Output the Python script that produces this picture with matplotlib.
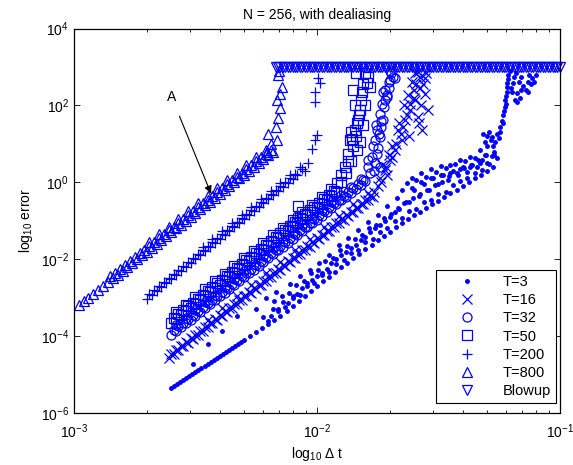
import numpy as np
import matplotlib
matplotlib.use('Agg')
import matplotlib.pyplot as plt
from matplotlib.ticker import LogLocator, NullLocator

plt.rcParams['font.family'] = ['Liberation Sans', 'DejaVu Sans']
plt.rcParams['mathtext.default'] = 'regular'

# all values are log10(dt) and log10(error)

# T=3 (dots): dense lower line, cloud rows above it, blow-up rise
t3_dt = [-2.60, -2.5875, -2.575, -2.5625, -2.55, -2.5375, -2.525, -2.5125, -2.50, -2.4875,
         -2.475, -2.4625, -2.45, -2.4375, -2.425, -2.4125, -2.40, -2.3875, -2.375, -2.3625,
         -2.35, -2.3375, -2.325, -2.3125, -2.30, -2.275, -2.25, -2.225, -2.20, -2.175,
         -2.15, -2.125, -2.10, -2.075, -2.05, -2.025, -2.00, -1.975, -1.95, -1.925,
         -1.90, -1.875, -1.85, -1.825, -1.80, -1.775, -1.75, -1.725, -1.70, -1.675,
         -1.65, -1.625, -1.60, -1.575, -1.55, -1.525, -1.50, -1.475, -1.45, -1.425,
         -1.40, -1.375, -1.35, -1.325, -1.30, -1.275,
         -2.51, -2.45, -2.39, -2.33, -2.25, -2.21, -2.17, -2.11, -2.07, -2.03, -1.99, -1.95,
         -1.91, -1.87, -1.83, -1.79, -1.75, -1.71, -1.67, -1.63, -1.59, -1.55, -1.51, -1.47,
         -1.43, -1.39, -1.35, -1.31, -1.27,
         -2.22, -2.18, -2.14, -2.10, -2.06, -2.02, -1.98, -1.94, -1.90, -1.86, -1.82, -1.78,
         -1.74, -1.70, -1.66, -1.62, -1.58, -1.54, -1.50, -1.46, -1.42, -1.38, -1.34, -1.30, -1.26,
         -2.20, -2.16, -2.12, -2.08, -2.04, -2.00, -1.96, -1.92, -1.88, -1.84, -1.80, -1.76,
         -1.72, -1.68, -1.64, -1.60, -1.56, -1.52, -1.48, -1.44, -1.40, -1.36, -1.32, -1.28]
t3_err = [-5.36, -5.31, -5.26, -5.20, -5.15, -5.10, -5.05, -5.00, -4.94, -4.89,
          -4.84, -4.78, -4.73, -4.68, -4.63, -4.58, -4.53, -4.47, -4.42, -4.37,
          -4.32, -4.26, -4.21, -4.16, -4.11, -4.00, -3.90, -3.79, -3.68, -3.58,
          -3.47, -3.34, -3.22, -3.09, -2.96, -2.84, -2.71, -2.58, -2.46, -2.33,
          -2.21, -2.09, -1.98, -1.86, -1.74, -1.63, -1.51, -1.39, -1.28, -1.16,
          -1.05, -0.96, -0.86, -0.77, -0.67, -0.57, -0.48, -0.38, -0.28, -0.19,
          -0.09, 0.00, 0.10, 0.20, 0.29, 0.39,
          -4.73, -4.21, -3.87, -3.48, -3.30, -3.01, -2.85, -2.64, -2.45, -2.28, -2.10, -1.88,
          -1.62, -1.45, -1.25, -1.02, -0.85, -0.62, -0.40, -0.03, 0.05, 0.15, 0.28, 0.38,
          0.47, 0.56, 0.62, 0.72, 0.80,
          -3.50, -3.30, -3.12, -2.95, -2.75, -2.55, -2.35, -2.10, -1.90, -1.72, -1.50, -1.30,
          -1.10, -0.90, -0.70, -0.50, -0.35, -0.20, -0.05, 0.05, 0.18, 0.28, 0.40, 0.50, 0.62,
          -3.60, -3.35, -3.15, -2.90, -2.62, -2.45, -2.25, -2.00, -1.80, -1.62, -1.42, -1.20,
          -1.00, -0.78, -0.55, -0.20, -0.05, 0.10, 0.20, 0.30, 0.40, 0.45, 0.58, 0.68]

t3_cloud_dt = [-2.19, -2.16, -2.13, -2.10, -2.07, -2.04, -2.01, -1.98, -1.95, -1.92, -1.89,
               -1.86, -1.83, -1.80, -1.77, -1.74, -1.71, -1.68, -1.65, -1.62, -1.59, -1.56,
               -1.53, -1.50, -1.47, -1.44, -1.41, -1.38, -1.35, -1.32, -1.29,
               -2.175, -2.145, -2.115, -2.085, -2.055, -2.025, -1.995, -1.965, -1.935, -1.905,
               -1.875, -1.845, -1.815, -1.785, -1.755, -1.725, -1.695, -1.665, -1.635, -1.605,
               -1.575, -1.545, -1.515, -1.485, -1.455, -1.425, -1.395, -1.365, -1.335, -1.305,
               -1.61, -1.57, -1.53, -1.49, -1.45, -1.41, -1.37, -1.33, -1.61, -1.53, -1.45, -1.37,
               -1.65, -1.57, -1.49, -1.41]
t3_cloud_err = [-3.49, -3.30, -3.25, -3.02, -2.93, -2.71, -2.63, -2.42, -2.33, -2.12, -2.03,
                -1.85, -1.75, -1.55, -1.47, -1.28, -1.20, -1.00, -0.92, -0.75, -0.70, -0.52,
                -0.46, -0.30, -0.24, -0.08, 0.03, 0.12, 0.25, 0.33, 0.47,
                -3.10, -2.97, -2.88, -2.66, -2.57, -2.36, -2.27, -2.04, -1.97, -1.76,
                -1.66, -1.48, -1.38, -1.20, -1.10, -0.92, -0.82, -0.66, -0.52, -0.42,
                -0.30, -0.20, -0.06, 0.02, 0.16, 0.24, 0.37, 0.45, 0.58, 0.70,
                -0.15, 0.00, 0.10, 0.18, 0.25, 0.35, 0.40, 0.50, 0.10, 0.35, 0.45, 0.65,
                -0.20, 0.25, 0.42, 0.58]

t3_rise_dt = [-1.329, -1.317, -1.28, -1.265, -1.247, -1.24, -1.235, -1.226, -1.226, -1.218,
              -1.218, -1.214, -1.30, -1.29, -1.27, -1.26, -1.31, -1.30, -1.285, -1.275,
              -1.25, -1.245, -1.232, -1.228, -1.222, -1.22, -1.216, -1.212,
              -1.193, -1.185, -1.177, -1.165, -1.132, -1.115, -1.20, -1.16, -1.14, -1.12,
              -1.10, -1.18, -1.205, -1.15, -1.19, -1.17, -1.16, -1.13, -1.125, -1.105,
              -1.175, -1.195]
t3_rise_err = [0.83, 1.27, 1.17, 1.05, 1.43, 1.60, 1.74, 1.95, 2.14, 2.35,
               2.58, 2.79, 0.95, 1.30, 0.70, 1.25, 1.05, 1.20, 1.10, 0.95,
               1.15, 1.30, 1.55, 1.85, 2.05, 2.25, 2.48, 2.68,
               2.58, 2.14, 2.32, 2.19, 2.61, 2.71, 2.45, 2.75, 2.40, 2.55,
               2.80, 2.85, 2.90, 2.50, 2.75, 2.62, 2.40, 2.35, 2.78, 2.62,
               2.10, 2.35]

# T=16 (x)
t16_dt = [-2.61, -2.59, -2.57, -2.55, -2.53, -2.51, -2.49, -2.47, -2.45, -2.43,
          -2.41, -2.39, -2.37, -2.35, -2.33, -2.31, -2.29, -2.27, -2.25, -2.23,
          -2.21, -2.19, -2.17, -2.15, -2.13, -2.11, -2.09, -2.07, -2.05, -2.03,
          -2.01, -1.99, -1.97, -1.95, -1.93, -1.91, -1.89, -1.87, -1.85, -1.83,
          -1.81, -1.79, -1.77,
          -2.60, -2.58, -2.56, -2.54, -2.52, -2.50, -2.48, -2.46, -2.44, -2.42,
          -2.40, -2.38, -2.36, -2.34, -2.32, -2.30, -2.28, -2.26, -2.24, -2.22,
          -2.20, -2.18, -2.16, -2.14, -2.12, -2.10, -2.08, -2.06, -2.04, -2.02,
          -2.00, -1.98, -1.96, -1.94, -1.92, -1.90, -1.88, -1.86, -1.84, -1.82,
          -1.80, -1.78,
          -2.45, -2.39, -2.33, -2.27, -2.21, -2.15, -2.09, -2.03, -1.97, -1.91, -1.85, -1.79,
          -1.749, -1.720, -1.700, -1.679, -1.650, -1.667, -1.638, -1.617, -1.597, -1.626,
          -1.576, -1.609, -1.556, -1.584, -1.543, -1.568, -1.74, -1.73, -1.69, -1.66,
          -1.60, -1.57, -1.62, -1.585, -1.765, -1.71,
          -1.735, -1.715, -1.705, -1.69, -1.675, -1.655, -1.645, -1.63, -1.615, -1.60,
          -1.59, -1.575, -1.565, -1.555, -1.55, -1.595, -1.64, -1.58]
t16_err = [-4.57, -4.47, -4.37, -4.27, -4.17, -4.07, -3.97, -3.87, -3.77, -3.67,
           -3.57, -3.47, -3.37, -3.27, -3.17, -3.07, -2.97, -2.87, -2.77, -2.67,
           -2.57, -2.47, -2.37, -2.27, -2.17, -2.07, -1.97, -1.87, -1.77, -1.67,
           -1.57, -1.47, -1.37, -1.27, -1.17, -1.07, -0.97, -0.87, -0.77, -0.67,
           -0.57, -0.47, -0.37,
           -4.46, -4.36, -4.26, -4.16, -4.06, -3.96, -3.86, -3.76, -3.66, -3.56,
           -3.46, -3.36, -3.26, -3.16, -3.06, -2.96, -2.86, -2.76, -2.66, -2.56,
           -2.46, -2.36, -2.26, -2.16, -2.06, -1.96, -1.86, -1.76, -1.66, -1.56,
           -1.46, -1.36, -1.26, -1.16, -1.06, -0.96, -0.86, -0.76, -0.66, -0.56,
           -0.46, -0.36,
           -3.57, -3.27, -2.97, -2.67, -2.37, -2.07, -1.77, -1.47, -1.17, -0.87, -0.57, -0.27,
           -0.09, 0.31, 0.57, 0.83, 1.09, 1.35, 1.61, 1.87, 2.14, 2.27,
           2.45, 2.60, 2.71, 2.87, 1.87, 1.35, 0.10, 0.45, 0.95, 1.55,
           2.40, 2.00, 1.20, 1.70, -0.25, 0.20,
           0.00, 0.40, 0.70, 0.65, 1.00, 1.25, 1.45, 1.75, 2.05, 2.20,
           2.55, 2.75, 2.55, 2.30, 2.85, 2.85, 2.00, 1.55]

# T=32 (o)
t32_dt = [-2.60, -2.58, -2.56, -2.54, -2.52, -2.50, -2.48, -2.46, -2.44, -2.42,
          -2.40, -2.38, -2.36, -2.34, -2.32, -2.30, -2.28, -2.26, -2.24, -2.22,
          -2.20, -2.18, -2.16, -2.14, -2.12, -2.10, -2.08, -2.06, -2.04, -2.02,
          -2.00, -1.98, -1.96, -1.94, -1.92, -1.90, -1.88, -1.86, -1.84, -1.82, -1.80,
          -2.59, -2.57, -2.55, -2.53, -2.51, -2.49, -2.47, -2.45, -2.43, -2.41,
          -2.39, -2.37, -2.35, -2.33, -2.31, -2.29, -2.27, -2.25, -2.23, -2.21,
          -2.19, -2.17, -2.15, -2.13, -2.11, -2.09, -2.07, -2.05, -2.03, -2.01,
          -1.99, -1.97, -1.95, -1.93, -1.91, -1.89, -1.87, -1.85, -1.83, -1.81,
          -2.58, -2.54, -2.50, -2.46, -2.42, -2.38, -2.34, -2.30, -2.26, -2.22,
          -2.18, -2.14, -2.10, -2.06, -2.02, -1.98, -1.94, -1.90, -1.86, -1.82,
          -2.082, -1.790, -1.774, -1.753, -1.741, -1.761, -1.741, -1.753, -1.728, -1.741,
          -1.720, -1.712, -1.728, -1.712, -1.700, -1.687, -1.679, -1.77, -1.735, -1.705,
          -1.765, -1.695,
          -1.78, -1.76, -1.75, -1.745, -1.735, -1.725, -1.72, -1.705, -1.73, -1.755,
          -1.79, -1.70]
t32_err = [-3.97, -3.87, -3.77, -3.67, -3.57, -3.47, -3.37, -3.27, -3.17, -3.07,
           -2.97, -2.87, -2.77, -2.67, -2.57, -2.47, -2.37, -2.27, -2.17, -2.07,
           -1.97, -1.87, -1.77, -1.67, -1.57, -1.47, -1.37, -1.27, -1.17, -1.07,
           -0.97, -0.87, -0.77, -0.67, -0.57, -0.47, -0.37, -0.27, -0.17, -0.07, 0.03,
           -3.85, -3.75, -3.65, -3.55, -3.45, -3.35, -3.25, -3.15, -3.05, -2.95,
           -2.85, -2.75, -2.65, -2.55, -2.45, -2.35, -2.25, -2.15, -2.05, -1.95,
           -1.85, -1.75, -1.65, -1.55, -1.45, -1.35, -1.25, -1.15, -1.05, -0.95,
           -0.85, -0.75, -0.65, -0.55, -0.45, -0.35, -0.25, -0.15, -0.05, 0.05,
           -3.72, -3.52, -3.32, -3.12, -2.92, -2.72, -2.52, -2.32, -2.12, -1.92,
           -1.72, -1.52, -1.32, -1.12, -0.92, -0.72, -0.52, -0.32, -0.12, 0.08,
           -0.87, 0.57, 0.65, 0.75, 0.39, 1.09, 1.17, 1.35, 1.61, 1.79,
           2.14, 2.22, 2.34, 2.27, 2.66, 2.74, 2.71, 0.95, 1.45, 2.45,
           0.30, 2.85,
           0.25, 0.50, 0.90, 1.25, 1.60, 1.95, 2.40, 2.60, 2.05, 1.50,
           0.40, 2.90]

# T=50 (squares)
t50_dt = [-2.60, -2.58, -2.56, -2.54, -2.52, -2.50, -2.48, -2.46, -2.44, -2.42,
          -2.40, -2.38, -2.36, -2.34, -2.32, -2.30, -2.28, -2.26, -2.24, -2.22,
          -2.20, -2.18, -2.16, -2.14, -2.12, -2.10, -2.08, -2.06, -2.04, -2.02,
          -2.00, -1.98, -1.96, -1.94, -1.92,
          -2.59, -2.57, -2.55, -2.53, -2.51, -2.49, -2.47, -2.45, -2.43, -2.41,
          -2.39, -2.37, -2.35, -2.33, -2.31, -2.29, -2.27, -2.25, -2.23, -2.21,
          -2.19, -2.17, -2.15, -2.13, -2.11, -2.09, -2.07, -2.05, -2.03, -2.01,
          -1.99, -1.97, -1.95, -1.93,
          -2.58, -2.54, -2.50, -2.46, -2.42, -2.38, -2.34, -2.30, -2.26, -2.22,
          -2.18, -2.14, -2.10, -2.06, -2.02, -1.98, -1.94,
          -2.078, -2.103, -1.918, -1.885, -1.872, -1.864, -1.856, -1.835, -1.844, -1.823,
          -1.831, -1.823, -1.802, -1.852, -1.815, -1.782, -1.794, -1.790, -1.84, -1.81,
          -1.86, -1.90,
          -1.90, -1.88, -1.87, -1.85, -1.84, -1.835, -1.825, -1.82, -1.81, -1.80,
          -1.86, -1.845]
t50_err = [-3.66, -3.56, -3.46, -3.36, -3.26, -3.16, -3.06, -2.96, -2.86, -2.76,
           -2.66, -2.56, -2.46, -2.36, -2.26, -2.16, -2.06, -1.96, -1.86, -1.76,
           -1.66, -1.56, -1.46, -1.36, -1.26, -1.16, -1.06, -0.96, -0.86, -0.76,
           -0.66, -0.56, -0.46, -0.36, -0.26,
           -3.53, -3.43, -3.33, -3.23, -3.13, -3.03, -2.93, -2.83, -2.73, -2.63,
           -2.53, -2.43, -2.33, -2.23, -2.13, -2.03, -1.93, -1.83, -1.73, -1.63,
           -1.53, -1.43, -1.33, -1.23, -1.13, -1.03, -0.93, -0.83, -0.73, -0.63,
           -0.53, -0.43, -0.33, -0.23,
           -3.38, -3.18, -2.98, -2.78, -2.58, -2.38, -2.18, -1.98, -1.78, -1.58,
           -1.38, -1.18, -0.98, -0.78, -0.58, -0.38, -0.18,
           -0.61, -1.13, -0.01, 0.39, 0.75, 1.09, 1.14, 0.83, 1.35, 1.04,
           1.61, 1.87, 2.00, 2.39, 2.34, 2.47, 2.58, 2.74, 2.85, 1.50,
           0.55, 0.20,
           0.00, 0.25, 0.55, 0.95, 1.20, 1.55, 1.75, 2.15, 2.55, 2.85,
           1.30, 2.00]

# T=200 (+)
t200_dt = [-2.70, -2.68, -2.66, -2.64, -2.62, -2.60, -2.58, -2.56, -2.54, -2.52,
           -2.50, -2.48, -2.46, -2.44, -2.42, -2.40, -2.38, -2.36, -2.34, -2.32,
           -2.30, -2.28, -2.26, -2.24, -2.22, -2.20, -2.18, -2.16, -2.14, -2.12,
           -2.10, -2.08,
           -2.69, -2.67, -2.65, -2.63, -2.61, -2.59, -2.57, -2.55, -2.53, -2.51,
           -2.49, -2.47, -2.45, -2.43, -2.41, -2.39, -2.37, -2.35, -2.33, -2.31,
           -2.29, -2.27, -2.25, -2.23, -2.21, -2.19, -2.17, -2.15, -2.13, -2.11, -2.09,
           -2.47, -2.43, -2.39, -2.35, -2.31, -2.27, -2.23, -2.19, -2.15, -2.11, -2.07,
           -2.037, -2.021, -2.008, -2.000, -2.008, -2.008, -1.996, -1.988, -2.06, -2.05]
t200_err = [-3.03, -2.93, -2.82, -2.72, -2.61, -2.51, -2.41, -2.30, -2.20, -2.09,
            -1.99, -1.89, -1.78, -1.68, -1.57, -1.47, -1.37, -1.26, -1.16, -1.05,
            -0.95, -0.85, -0.74, -0.64, -0.53, -0.43, -0.33, -0.22, -0.12, -0.01,
            0.09, 0.19,
            -2.90, -2.80, -2.69, -2.59, -2.48, -2.38, -2.28, -2.17, -2.07, -1.96,
            -1.86, -1.76, -1.65, -1.55, -1.44, -1.34, -1.24, -1.13, -1.03, -0.92,
            -0.82, -0.72, -0.61, -0.51, -0.40, -0.30, -0.20, -0.09, 0.01, 0.12, 0.22,
            -1.68, -1.48, -1.27, -1.06, -0.85, -0.64, -0.44, -0.23, -0.02, 0.19, 0.40,
            0.49, 0.88, 1.09, 1.22, 2.08, 2.34, 2.71, 2.58, 0.35, 0.30]

# T=800 (triangles)
t800_dt = [-2.98, -2.96, -2.94, -2.92, -2.90, -2.88, -2.86, -2.84, -2.82, -2.80,
           -2.78, -2.76, -2.74, -2.72, -2.70, -2.68, -2.66, -2.64, -2.62, -2.60,
           -2.58, -2.56, -2.54, -2.52, -2.50, -2.48, -2.46, -2.44, -2.42, -2.40,
           -2.38, -2.36, -2.34, -2.32, -2.30, -2.28, -2.26, -2.24, -2.22, -2.20, -2.18,
           -2.85, -2.83, -2.81, -2.79, -2.77, -2.75, -2.73, -2.71, -2.69, -2.67,
           -2.65, -2.63, -2.61, -2.59, -2.57, -2.55, -2.53, -2.51, -2.49, -2.47,
           -2.45, -2.43, -2.41, -2.39, -2.37, -2.35, -2.33, -2.31, -2.29, -2.27,
           -2.25, -2.23, -2.21, -2.19,
           -2.69, -2.65, -2.61, -2.57, -2.53, -2.49, -2.45, -2.41, -2.37, -2.33,
           -2.29, -2.25, -2.21,
           -2.160, -2.144, -2.165, -2.152, -2.160, -2.202, -2.165, -2.206, -2.150, -2.170,
           -2.190, -2.155]
t800_err = [-3.20, -3.10, -3.00, -2.90, -2.80, -2.70, -2.60, -2.50, -2.40, -2.30,
            -2.20, -2.10, -2.00, -1.90, -1.80, -1.70, -1.60, -1.50, -1.40, -1.30,
            -1.20, -1.10, -1.00, -0.90, -0.80, -0.70, -0.60, -0.50, -0.40, -0.30,
            -0.20, -0.10, 0.00, 0.10, 0.20, 0.30, 0.40, 0.50, 0.60, 0.70, 0.80,
            -2.45, -2.35, -2.25, -2.15, -2.05, -1.95, -1.85, -1.75, -1.65, -1.55,
            -1.45, -1.35, -1.25, -1.15, -1.05, -0.95, -0.85, -0.75, -0.65, -0.55,
            -0.45, -0.35, -0.25, -0.15, -0.05, 0.05, 0.15, 0.25, 0.35, 0.45,
            0.55, 0.65, 0.75, 0.85,
            -1.55, -1.35, -1.15, -0.95, -0.75, -0.55, -0.35, -0.15, 0.05, 0.25,
            0.45, 0.65, 0.85,
            2.79, 2.48, 2.14, 1.93, 1.67, 1.27, 1.09, 0.78, 2.30, 1.45,
            1.00, 2.90]

# blow-up runs, all drawn at error = 1e3
blowup_dt = [-2.17, -2.16, -2.15, -2.14, -2.13, -2.12, -2.11, -2.10, -2.09, -2.08,
             -2.07, -2.06, -2.05, -2.04, -2.03, -2.02, -2.01, -2.00, -1.99, -1.98,
             -1.97, -1.96, -1.95, -1.94, -1.93, -1.92, -1.91, -1.90, -1.89, -1.88,
             -1.87, -1.86, -1.85, -1.84, -1.83, -1.82, -1.81, -1.80, -1.79, -1.78,
             -1.77, -1.76, -1.75, -1.74, -1.73, -1.72, -1.71, -1.70, -1.69, -1.68,
             -1.67, -1.66, -1.65, -1.64, -1.63, -1.62, -1.61, -1.60, -1.59, -1.58,
             -1.57, -1.56, -1.55, -1.54, -1.53, -1.52, -1.51, -1.50, -1.49, -1.48,
             -1.47, -1.46, -1.45, -1.44, -1.43, -1.42, -1.41, -1.40, -1.39, -1.38,
             -1.37, -1.36, -1.35, -1.34, -1.33, -1.32, -1.31, -1.30, -1.29, -1.28,
             -1.27, -1.26, -1.25, -1.24, -1.23, -1.22, -1.21, -1.20, -1.19, -1.18,
             -1.17, -1.16, -1.15, -1.14, -1.13, -1.12, -1.11, -1.10, -1.09, -1.08,
             -1.07, -1.06, -1.05, -1.04, -1.03, -1.02, -1.01, -1.00]
blowup_level = 3.0

series = [
    (t3_dt + t3_cloud_dt + t3_rise_dt, t3_err + t3_cloud_err + t3_rise_err, '.', 'T=3'),
    (t16_dt, t16_err, 'x', 'T=16'),
    (t32_dt, t32_err, 'o', 'T=32'),
    (t50_dt, t50_err, 's', 'T=50'),
    (t200_dt, t200_err, '+', 'T=200'),
    (t800_dt, t800_err, '^', 'T=800'),
]

fig = plt.figure(figsize=(5.73, 4.65), dpi=100)
ax = fig.add_axes([0.129, 0.112, 0.848, 0.8265])

for dts, errs, m, lab in series:
    x = 10.0 ** np.array(dts)
    y = 10.0 ** np.array(errs)
    if m == '.':
        ax.plot(x, y, linestyle='none', marker='.', ms=5, color='b', label=lab)
    else:
        ax.plot(x, y, linestyle='none', marker=m, ms=6.5, color='b', mfc='none',
                mec='b', mew=0.9, label=lab)

bx = 10.0 ** np.array(blowup_dt)
by = np.full(len(bx), 10.0 ** blowup_level)
ax.plot(bx, by, linestyle='none', marker='v', ms=7, color='b', mfc='none', mec='b',
        mew=0.9, label='Blowup', clip_on=False)

ax.set_xscale('log')
ax.set_yscale('log')
ax.set_xlim(1e-3, 1e-1)
ax.set_ylim(1e-6, 1e4)
ax.set_yticks([1e-6, 1e-4, 1e-2, 1e0, 1e2, 1e4])
ax.yaxis.set_minor_locator(NullLocator())
ax.xaxis.set_minor_locator(LogLocator(base=10, subs=np.arange(2, 10)))
ax.tick_params(which='both', direction='in', top=True, right=True, labelsize=10)
ax.tick_params(which='major', length=4, width=0.6)
ax.tick_params(which='minor', length=2.5, width=0.6)
ax.tick_params(axis='x', which='major', pad=7)
for s in ax.spines.values():
    s.set_linewidth(0.9)

ax.set_title('N = 256, with dealiasing', fontsize=10, pad=7)
ax.set_xlabel(r'log$_{10}$ $\Delta$ t', fontsize=10, labelpad=3)
ax.set_ylabel('log$_{10}$ error', fontsize=10)

ax.annotate('A', xy=(10 ** -2.436, 10 ** -0.29), xytext=(10 ** -2.597, 10 ** 2.21),
            fontsize=10, ha='center', va='center',
            arrowprops=dict(arrowstyle='-|>', color='k', lw=0.8, mutation_scale=11,
                            shrinkA=7, shrinkB=0))

leg = ax.legend(loc='lower right', bbox_to_anchor=(0.992, 0.026), borderaxespad=0,
                fontsize=10.5, fancybox=False, edgecolor='k', framealpha=1,
                handlelength=3.56, handletextpad=0.68, labelspacing=0.28,
                borderpad=0.35, numpoints=1)
leg.get_frame().set_linewidth(0.8)

fig.savefig('out.png', dpi=100)
